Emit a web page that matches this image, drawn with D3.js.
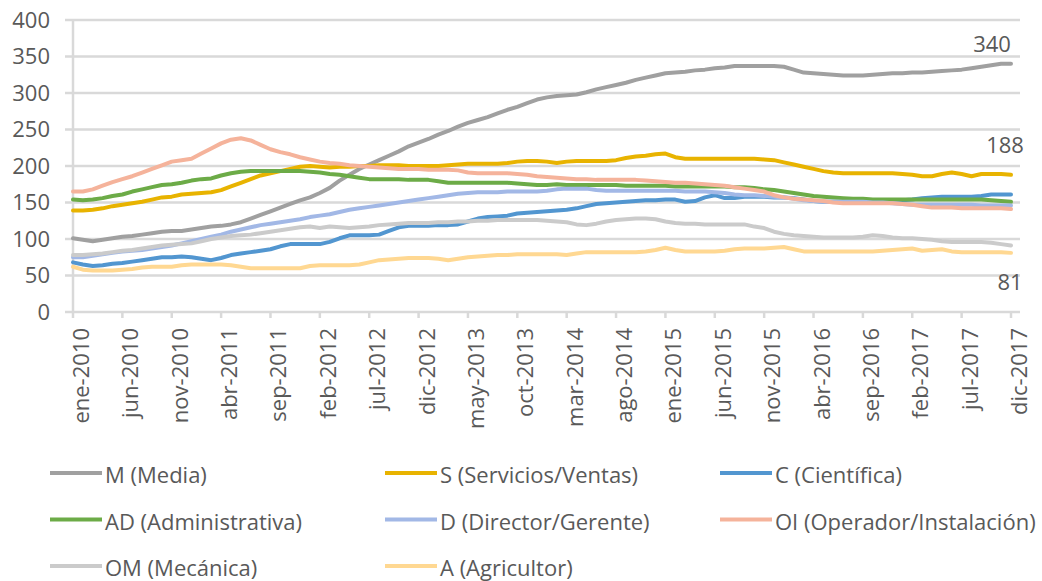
<!DOCTYPE html>
<html>
<head>
    <meta charset="utf-8">
    <script src="https://cdnjs.cloudflare.com/ajax/libs/d3/7.8.5/d3.min.js"></script>
    <style>
        body {
            margin: 0;
            background: #fff;
        }

        svg text {
            font-family: "Open Sans", "Noto Sans", sans-serif;
            font-size: 22px;
            fill: #595959;
        }

        .grid line {
            stroke: #d9d9d9;
            stroke-width: 2.5px;
        }

        .serie {
            fill: none;
            stroke-width: 4px;
            stroke-linejoin: round;
            stroke-linecap: round;
        }
    </style>
</head>
<body>
<script>
    // meses ene-2010 .. dic-2017
    var meses = ["ene", "feb", "mar", "abr", "may", "jun", "jul", "ago", "sep", "oct", "nov", "dic"];
    var anios = [2010, 2011, 2012, 2013, 2014, 2015, 2016, 2017];
    var categorias = [];
    anios.forEach(function (a) {
        meses.forEach(function (m) { categorias.push(m + "-" + a); });
    });

    var yTicks = [0, 50, 100, 150, 200, 250, 300, 350, 400];

    var nombres = ["M (Media)", "S (Servicios/Ventas)", "C (Científica)",
        "AD (Administrativa)", "D (Director/Gerente)", "OI (Operador/Instalación)",
        "OM (Mecánica)", "A (Agricultor)"];

    var colores = ["#a0a0a0", "#e8b300", "#5296d0", "#6cab47", "#a2b8e6", "#f5b39b", "#cbcbcb", "#ffd892"];

    var serieM = [101, 99, 97, 99, 101, 103, 104, 106, 108, 110, 111, 111, 113, 115, 117, 118, 120, 123, 128, 133,
        138, 143, 148, 153, 157, 163, 170, 180, 188, 196, 202, 208, 214, 220, 227, 232, 237, 243, 248, 254,
        259, 263, 267, 272, 277, 281, 286, 291, 294, 296, 297, 298, 301, 305, 308, 311, 314, 318, 321, 324,
        327, 328, 329, 331, 332, 334, 335, 337, 337, 337, 337, 337, 336, 332, 328, 327, 326, 325, 324, 324,
        324, 325, 326, 327, 327, 328, 328, 329, 330, 331, 332, 334, 336, 338, 340, 340];

    var serieS = [139, 139, 140, 142, 145, 147, 149, 151, 154, 157, 158, 161, 162, 163, 164, 167, 172, 177, 182, 187,
        190, 193, 196, 199, 200, 199, 198, 199, 199, 200, 200, 201, 201, 201, 200, 200, 200, 200, 201, 202,
        203, 203, 203, 203, 204, 206, 207, 207, 206, 204, 206, 207, 207, 207, 207, 208, 211, 213, 214, 216,
        217, 212, 210, 210, 210, 210, 210, 210, 210, 210, 209, 208, 205, 202, 199, 196, 193, 191, 190, 190,
        190, 190, 190, 190, 189, 188, 186, 186, 189, 191, 189, 186, 189, 189, 189, 188];

    var serieC = [68, 65, 63, 64, 66, 67, 69, 71, 73, 75, 75, 76, 75, 73, 71, 74, 78, 80, 82, 84,
        86, 90, 93, 93, 93, 93, 96, 101, 105, 105, 105, 106, 111, 116, 118, 118, 118, 119, 119, 120,
        124, 128, 130, 131, 132, 135, 136, 137, 138, 139, 140, 142, 145, 148, 149, 150, 151, 152, 153, 153,
        154, 154, 151, 152, 157, 160, 156, 156, 158, 158, 158, 157, 157, 156, 154, 152, 151, 151, 151, 151,
        152, 153, 153, 153, 153, 154, 156, 157, 158, 158, 158, 158, 159, 161, 161, 161];

    var serieAD = [154, 153, 154, 156, 159, 161, 165, 168, 171, 174, 175, 177, 180, 182, 183, 187, 190, 192, 193, 193,
        193, 193, 193, 193, 192, 191, 189, 188, 186, 184, 182, 182, 182, 182, 181, 181, 181, 179, 177, 177,
        177, 177, 177, 177, 177, 176, 175, 174, 174, 175, 174, 174, 174, 174, 174, 174, 173, 173, 173, 173,
        173, 172, 172, 172, 172, 172, 172, 171, 171, 170, 168, 167, 165, 163, 161, 159, 158, 157, 156, 155,
        155, 154, 154, 154, 154, 154, 154, 154, 154, 154, 154, 154, 154, 153, 152, 151];

    var serieD = [75, 75, 77, 79, 81, 83, 84, 85, 87, 89, 91, 94, 97, 100, 103, 106, 110, 113, 116, 119,
        121, 123, 125, 127, 130, 132, 134, 137, 140, 142, 144, 146, 148, 150, 152, 154, 156, 158, 160, 162,
        163, 164, 164, 164, 165, 165, 165, 165, 166, 168, 169, 169, 169, 167, 166, 166, 166, 166, 166, 166,
        166, 166, 165, 165, 165, 164, 163, 161, 160, 160, 159, 158, 157, 155, 153, 152, 151, 151, 151, 151,
        151, 150, 150, 149, 148, 147, 147, 147, 147, 147, 147, 147, 146, 146, 146, 146];

    var serieOI = [165, 165, 168, 173, 178, 182, 186, 191, 196, 201, 206, 208, 210, 217, 224, 231, 236, 238, 235, 229,
        223, 219, 216, 212, 209, 206, 204, 203, 201, 200, 199, 198, 197, 196, 196, 196, 195, 195, 195, 194,
        191, 190, 190, 190, 190, 189, 188, 186, 185, 184, 183, 182, 182, 181, 181, 181, 181, 181, 180, 179,
        178, 177, 177, 176, 175, 174, 173, 171, 169, 167, 165, 160, 157, 155, 154, 153, 152, 150, 149, 149,
        149, 149, 149, 149, 148, 147, 145, 143, 143, 143, 142, 142, 142, 142, 142, 141];

    var serieOM = [78, 78, 79, 80, 82, 84, 85, 87, 89, 91, 92, 93, 94, 97, 100, 102, 104, 105, 106, 108,
        110, 112, 114, 116, 117, 115, 117, 116, 115, 116, 117, 119, 120, 121, 122, 122, 122, 123, 123, 124,
        124, 125, 125, 126, 126, 126, 126, 126, 125, 124, 123, 120, 119, 121, 124, 126, 127, 128, 128, 127,
        124, 122, 121, 121, 120, 120, 120, 120, 120, 117, 115, 110, 107, 105, 104, 103, 102, 102, 102, 102,
        103, 105, 104, 102, 101, 101, 100, 99, 97, 96, 96, 96, 96, 95, 93, 91];

    var serieA = [62, 58, 57, 57, 57, 58, 59, 61, 62, 62, 62, 64, 65, 65, 65, 65, 64, 62, 60, 60,
        60, 60, 60, 60, 63, 64, 64, 64, 64, 65, 68, 71, 72, 73, 74, 74, 74, 73, 71, 73,
        75, 76, 77, 78, 78, 79, 79, 79, 79, 79, 78, 80, 82, 82, 82, 82, 82, 82, 83, 85,
        88, 85, 83, 83, 83, 83, 84, 86, 87, 87, 87, 88, 89, 86, 83, 83, 83, 83, 83, 83,
        83, 83, 84, 85, 86, 87, 84, 85, 86, 83, 82, 82, 82, 82, 82, 81];

    var series = [serieM, serieS, serieC, serieAD, serieD, serieOI, serieOM, serieA];

    // etiquetas del último valor: serie, desplazamiento
    var etiquetas = [
        {serie: 0, dx: -19, dy: -12},
        {serie: 1, dx: -6, dy: -22},
        {serie: 7, dx: -1, dy: 37}
    ];

    var width = 1042, height = 581;
    var plotLeft = 73, plotRight = 1011, plotTop = 20, plotBottom = 312;

    var svg = d3.select("body").append("svg")
        .attr("width", width)
        .attr("height", height);

    var x = d3.scaleLinear()
        .domain([0, categorias.length - 1])
        .range([plotLeft, plotRight]);

    var y = d3.scaleLinear()
        .domain([0, 400])
        .range([plotBottom, plotTop]);

    // rejilla horizontal
    svg.append("g").attr("class", "grid")
        .selectAll("line")
        .data(yTicks)
        .enter().append("line")
        .attr("x1", plotLeft - 8)
        .attr("x2", 1020)
        .attr("y1", function (d) { return y(d); })
        .attr("y2", function (d) { return y(d); });

    // eje vertical
    svg.append("line")
        .attr("x1", plotLeft).attr("x2", plotLeft)
        .attr("y1", y(400)).attr("y2", y(0))
        .style("stroke", "#d9d9d9").style("stroke-width", 2.5);

    svg.append("g")
        .selectAll("text")
        .data(yTicks)
        .enter().append("text")
        .attr("x", 50)
        .attr("y", function (d) { return y(d); })
        .attr("dy", "0.36em")
        .style("text-anchor", "end")
        .text(function (d) { return d; });

    // eje horizontal con marcas cada 5 meses
    var idxTicks = d3.range(0, categorias.length, 5);

    svg.append("g").attr("class", "grid")
        .selectAll("line")
        .data(idxTicks)
        .enter().append("line")
        .attr("x1", function (d) { return x(d); })
        .attr("x2", function (d) { return x(d); })
        .attr("y1", plotBottom)
        .attr("y2", plotBottom + 6);

    svg.append("g")
        .selectAll("text")
        .data(idxTicks)
        .enter().append("text")
        .attr("transform", function (d) {
            return "translate(" + (x(d) + 16) + "," + (plotBottom + 16) + ") rotate(-90)";
        })
        .style("text-anchor", "end")
        .text(function (d) { return categorias[d]; });

    var line = d3.line()
        .x(function (d, i) { return x(i); })
        .y(function (d) { return y(d); });

    svg.append("g")
        .selectAll("path")
        .data(series)
        .enter().append("path")
        .attr("class", "serie")
        .attr("d", line)
        .style("stroke", function (d, i) { return colores[i]; });

    svg.append("g")
        .selectAll("text")
        .data(etiquetas)
        .enter().append("text")
        .attr("x", function (d) { return x(categorias.length - 1) + d.dx; })
        .attr("y", function (d) {
            var s = series[d.serie];
            return y(s[s.length - 1]) + d.dy;
        })
        .style("text-anchor", "middle")
        .text(function (d) {
            var s = series[d.serie];
            return s[s.length - 1];
        });

    // leyenda, 3 columnas
    var colX = [50, 385, 720];
    var filaY = [473, 519.5, 566];

    var leyenda = svg.append("g")
        .selectAll("g")
        .data(nombres)
        .enter().append("g")
        .attr("transform", function (d, i) {
            return "translate(" + colX[i % 3] + "," + filaY[Math.floor(i / 3)] + ")";
        });

    leyenda.append("line")
        .attr("x1", 0).attr("x2", 52)
        .style("stroke", function (d, i) { return colores[i]; })
        .style("stroke-width", 4);

    leyenda.append("text")
        .attr("x", 55)
        .attr("y", 10)
        .text(function (d) { return d; });
</script>
</body>
</html>
